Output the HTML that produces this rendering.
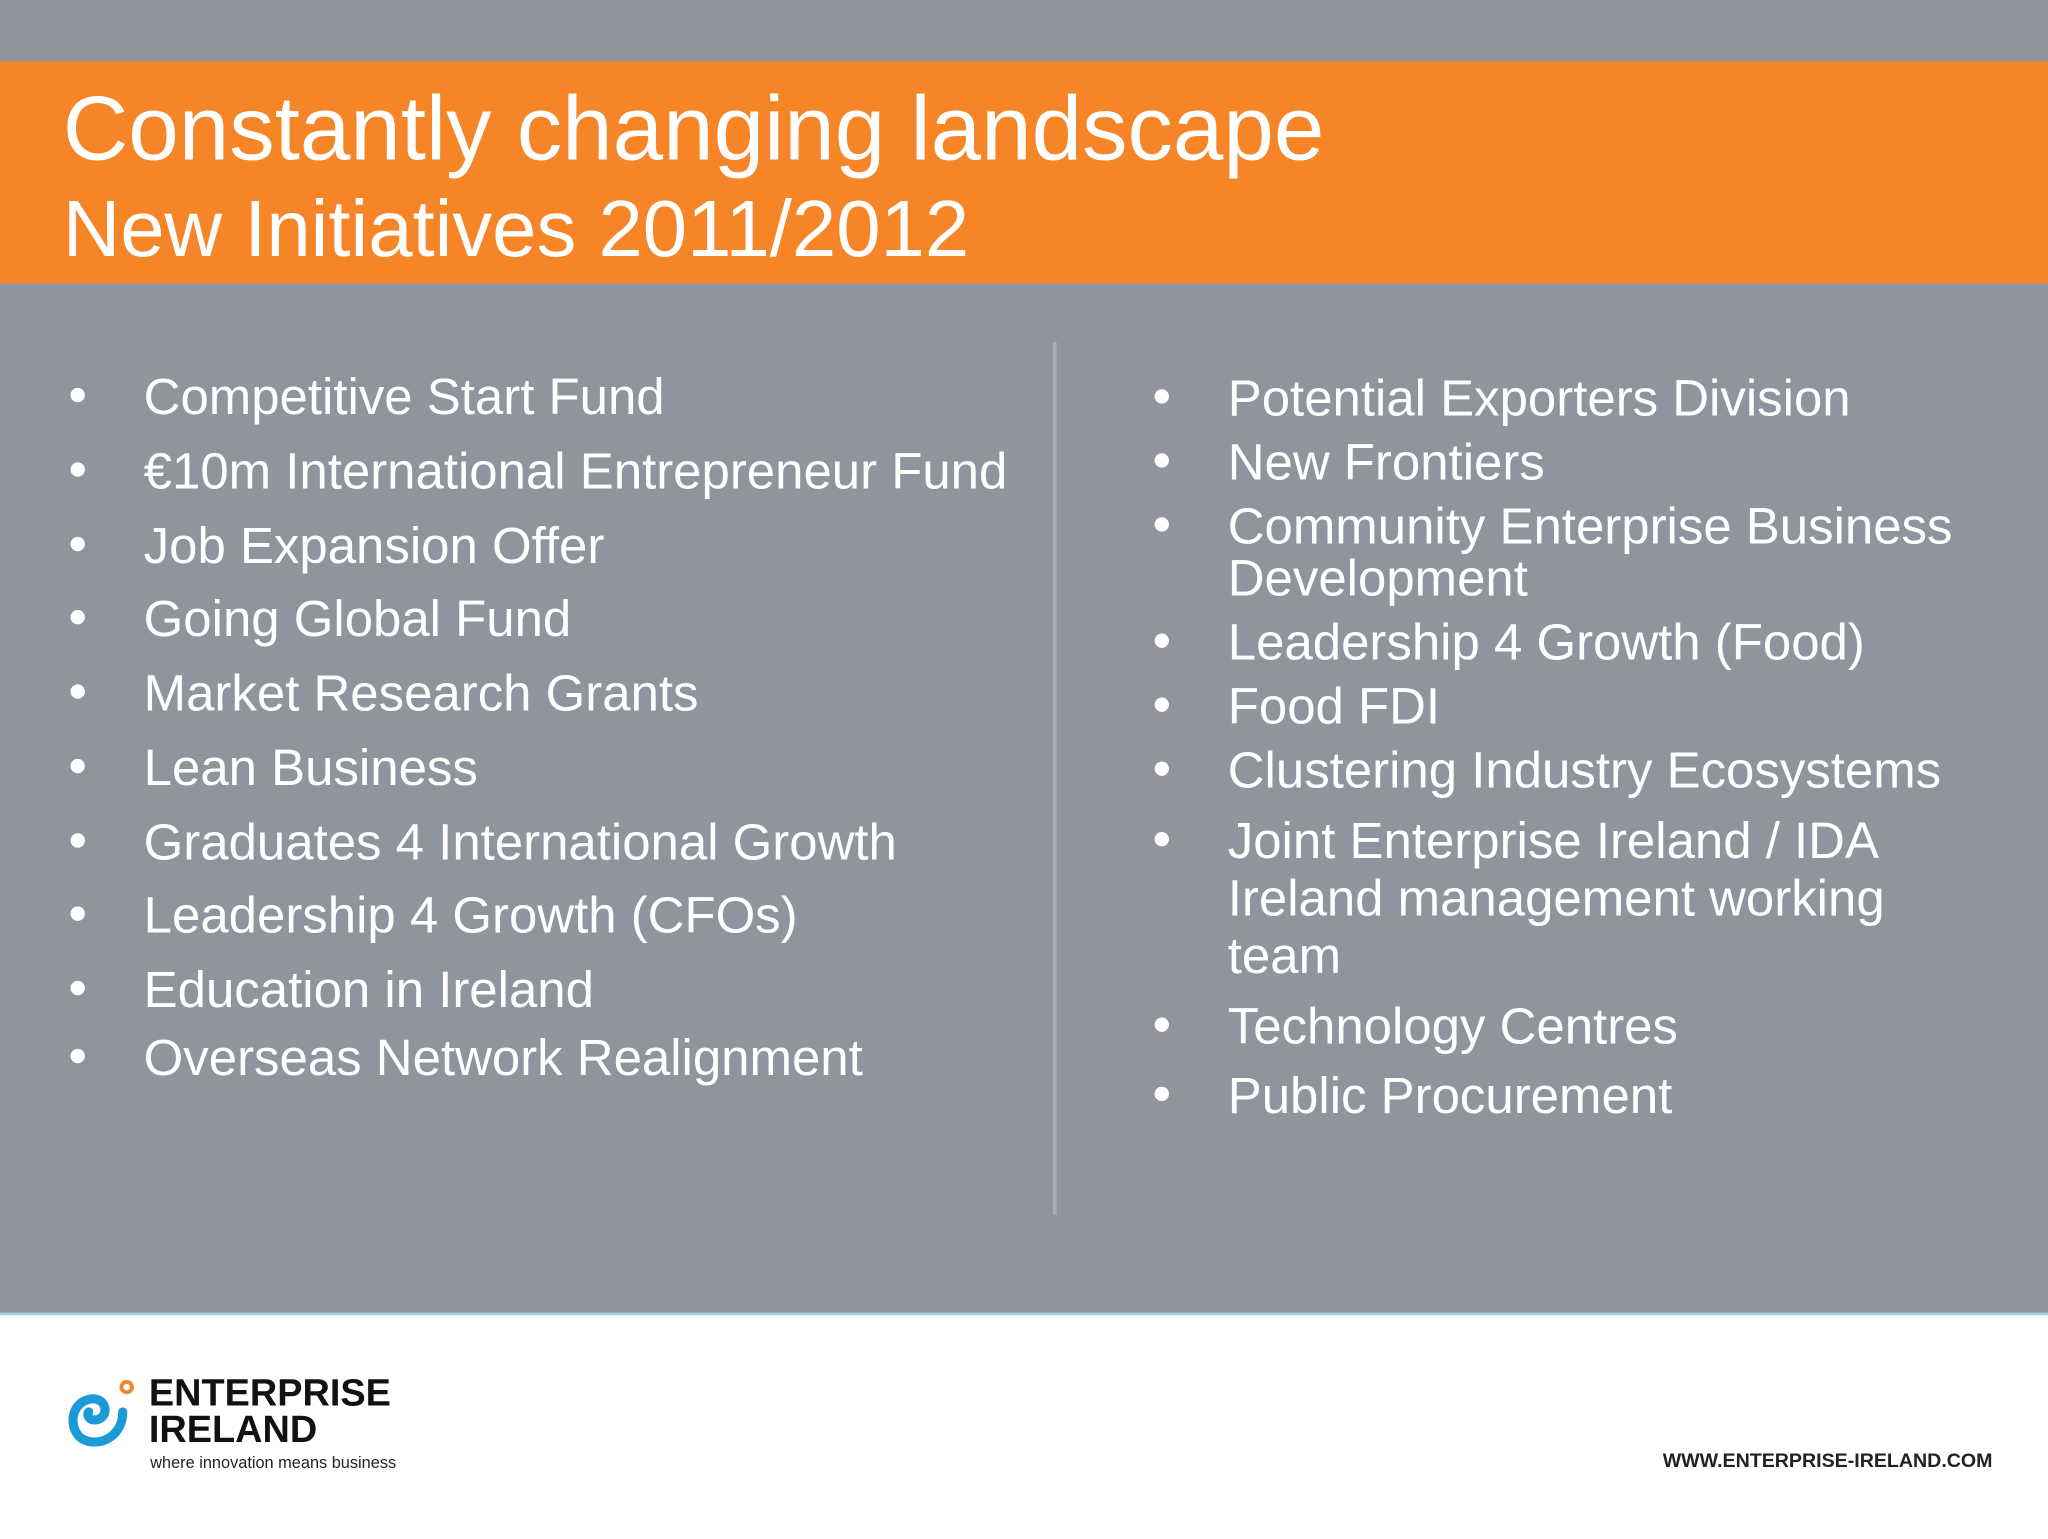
<!DOCTYPE html>
<html><head><meta charset="utf-8"><style>
html,body{margin:0;padding:0;width:2048px;height:1536px;overflow:hidden;background:#fff}
#s{position:absolute;left:0;top:0;width:1568px;height:1176px;transform:scale(1.306122);transform-origin:0 0;font-family:"Liberation Sans",sans-serif;background:#8f949d}
.band{position:absolute;left:0;top:47px;width:1568px;height:170px;background:#f68528}
.t1{position:absolute;left:48px;top:58px;font-size:69.5px;color:#fff;line-height:80px;white-space:nowrap}
.t2{position:absolute;left:48px;top:140px;font-size:61px;color:#fff;line-height:70px;white-space:nowrap}
.l{position:absolute;color:#fff;font-size:39px;line-height:44px;white-space:nowrap}
.b{position:absolute;width:11px;height:11px;border-radius:50%;background:#fff}
.div{position:absolute;left:806px;top:262px;width:3px;height:668px;background:#a9adb5}
.foot{position:absolute;left:0;top:1005px;width:1568px;height:171px;background:#fff;border-top:2px solid #9fd3d8}
</style></head><body><div id="s">
<div class="band"></div>
<div class="t1">Constantly changing landscape</div>
<div class="t2">New Initiatives 2011/2012</div>
<div class="div"></div>
<div id="items"></div>
<div class="foot">
<svg style="position:absolute;left:50px;top:48px" width="60" height="60" viewBox="0 0 60 60">
<path d="M44 26 C44 46 24 54 12 46 C2 38 4 18 20 16 C32 15 34 30 24 32 C18 33 16 28 18 26" fill="none" stroke="#1a9bd7" stroke-width="7" stroke-linecap="round"/>
<circle cx="47" cy="7" r="4" fill="none" stroke="#e98a2e" stroke-width="3"/></svg>
<div style="position:absolute;left:114px;top:46px;font-size:29px;font-weight:bold;line-height:28px;color:#111">ENTERPRISE<br>IRELAND</div>
<div style="position:absolute;left:115px;top:106px;font-size:12.5px;color:#222">where innovation means business</div>
<div style="position:absolute;left:1273px;top:103px;font-size:15px;font-weight:bold;color:#222">WWW.ENTERPRISE-IRELAND.COM</div>
</div>
</div>
<script>
const leftItems=["Competitive Start Fund","€10m International Entrepreneur Fund","Job Expansion Offer","Going Global Fund","Market Research Grants","Lean Business","Graduates 4 International Growth","Leadership 4 Growth (CFOs)","Education in Ireland","Overseas Network Realignment"];
const leftY=[304,361,418,474,531,588,645,701,758,810];
const rightItems=[["Potential Exporters Division",[305]],["New Frontiers",[354]],["Community Enterprise Business","Development",[403,443]],["Leadership 4 Growth (Food)",[492]],["Food FDI",[541]],["Clustering Industry Ecosystems",[590]],["Joint Enterprise Ireland / IDA","Ireland management working","team",[644,688,732]],["Technology Centres",[786]],["Public Procurement",[839]]];
const c=document.getElementById('items');
function add(x,bx,y,txt,bullet){
 const d=document.createElement('div');d.className='l';d.textContent=txt;d.style.left=x+'px';d.style.top=(y-21)+'px';
 
 
 c.appendChild(d);
 if(bullet){const b=document.createElement('div');b.className='b';b.style.left=bx+'px';b.style.top=(y-7)+'px';
 
 
 c.appendChild(b);}
}
leftItems.forEach((t,i)=>add(110,54,leftY[i],t,true));
rightItems.forEach(it=>{const ys=it[it.length-1];for(let i=0;i<ys.length;i++)add(940,884,ys[i],it[i],i===0);});
</script>
</body></html>
